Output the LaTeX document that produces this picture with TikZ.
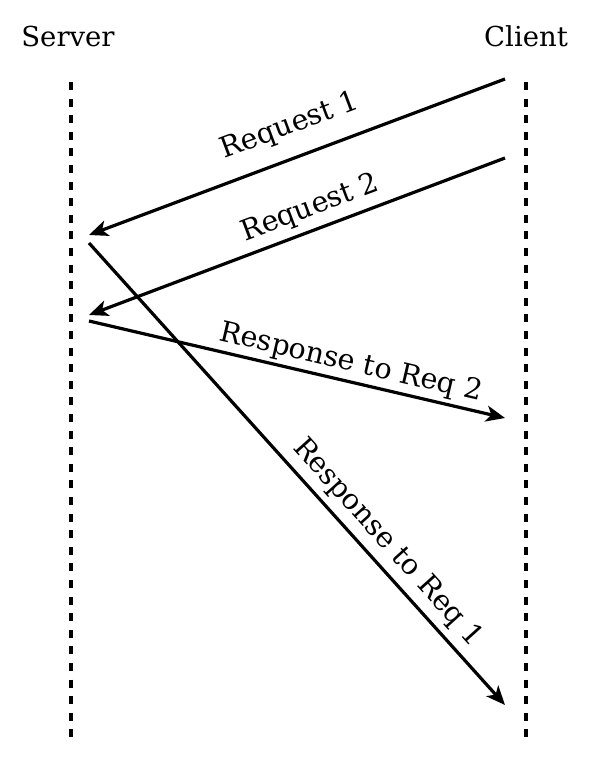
\documentclass[tikz,border=0pt]{standalone}
\usepackage{fontspec}
\setmainfont{DejaVu Serif}
\usetikzlibrary{arrows.meta}

\begin{document}
\begin{tikzpicture}[x=1pt,y=-1pt,->,>={Stealth[length=19pt,width=16pt,inset=5pt]},
                    line width=3.2pt,font=\fontsize{27.5}{32}\selectfont,
                    lifeline/.style={-,dash pattern=on 8pt off 8.6pt,line width=4pt},
                    msg/.style={sloped,font=\fontsize{28.5}{32}\selectfont}]
  \useasboundingbox (0,0) rectangle (590,767);

  \node[anchor=base] (server) at (68,47)  {Server};
  \node[anchor=base] (client) at (526,47) {Client};

  \coordinate (st) at (71,82);  \coordinate (sb) at (71,740);
  \coordinate (ct) at (526,82); \coordinate (cb) at (526,740);
  \draw[lifeline] (st) -- (sb);
  \draw[lifeline] (ct) -- (cb);

  \coordinate (c1) at (505,79);  \coordinate (s1) at (89,235);
  \coordinate (c2) at (505,158); \coordinate (s2) at (89,315);
  \coordinate (s3) at (89,243);  \coordinate (c3) at (505,705);
  \coordinate (s4) at (89,321);  \coordinate (c4) at (505,418);

  \path (c1) edge node[msg,pos=0.49,above=13pt] {Request 1} (s1)
        (c2) edge node[msg,pos=0.45,above=3pt]  {Request 2} (s2)
        (s4) edge node[msg,pos=0.62,above=0pt]  {Response to Req 2} (c4)
        (s3) edge node[msg,pos=0.68,above=3pt]  {Response to Req 1} (c3);
\end{tikzpicture}
\end{document}
